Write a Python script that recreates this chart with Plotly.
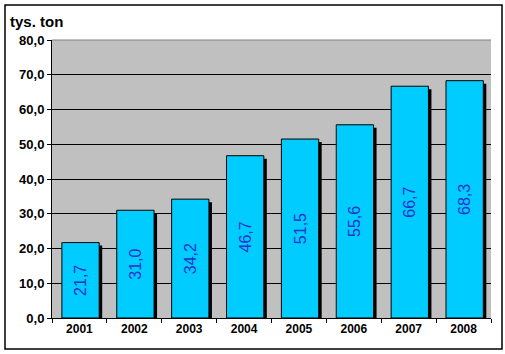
import plotly.graph_objects as go

years = ["2001", "2002", "2003", "2004", "2005", "2006", "2007", "2008"]
values = [21.7, 31.0, 34.2, 46.7, 51.5, 55.6, 66.7, 68.3]
y_ticks = [0, 10, 20, 30, 40, 50, 60, 70, 80]
unit_label = "tys. ton"

L, R, T, B = 52, 14, 40, 36
W, H = 505, 354
pw, ph = W - L - R, H - T - B
px_per_unit = ph / 80.0
px_per_cat = pw / len(years)

shadow_dx = 3 / px_per_cat
shadow_dy = 3 / px_per_unit
bw = 0.68
off = -bw / 2 + 0.02

fig = go.Figure()
fig.add_trace(go.Bar(
    x=years, y=[v - shadow_dy for v in values],
    width=bw, offset=off + shadow_dx,
    marker=dict(color="black", line=dict(width=0)),
    hoverinfo="skip", showlegend=False,
))
fig.add_trace(go.Bar(
    x=years, y=values,
    width=bw, offset=off,
    marker=dict(color="#00CCFF", line=dict(color="black", width=1)),
    texttemplate="%{y:.1f}", textposition="inside", insidetextanchor="middle",
    textangle=-90,
    textfont=dict(family="Liberation Sans, Arial", size=16, color="#2233CC"),
    showlegend=False,
))

fig.update_layout(
    width=W, height=H,
    margin=dict(l=L, r=R, t=T, b=B),
    barmode="overlay",
    separators=", ",
    paper_bgcolor="white",
    plot_bgcolor="#C0C0C0",
    font=dict(family="Liberation Sans, Arial", color="black"),
    xaxis=dict(
        type="category", tickson="boundaries", ticks="outside", ticklen=4,
        tickcolor="black", showline=True, linecolor="black", linewidth=1,
        showgrid=False,
        tickfont=dict(size=12, family="Liberation Sans, Arial", weight="bold"),
        range=[-0.5, len(years) - 0.5],
    ),
    yaxis=dict(
        range=[0, 80], tickvals=y_ticks, tickformat=".1f",
        ticks="outside", ticklen=4, tickcolor="black",
        showline=True, linecolor="black", linewidth=1,
        showgrid=True, gridcolor="black", gridwidth=1,
        zeroline=False,
        tickfont=dict(size=13, family="Liberation Sans, Arial", weight="bold"),
    ),
    shapes=[
        dict(type="rect", xref="paper", yref="paper",
             x0=(5 - L) / pw, x1=(502 - L) / pw,
             y0=(H - B - 349) / ph, y1=(H - B - 5) / ph,
             line=dict(color="black", width=1.5), layer="below"),
        dict(type="line", xref="paper", yref="paper", x0=0, x1=1, y0=1, y1=1,
             line=dict(color="#808080", width=1)),
    ],
    annotations=[
        dict(text="<b>" + unit_label + "</b>", xref="paper", yref="paper",
             x=(8 - L) / pw, y=(H - B - 22) / ph, xanchor="left", yanchor="middle",
             showarrow=False, font=dict(size=15, family="Liberation Sans, Arial")),
    ],
)

fig.write_html("out.html")
